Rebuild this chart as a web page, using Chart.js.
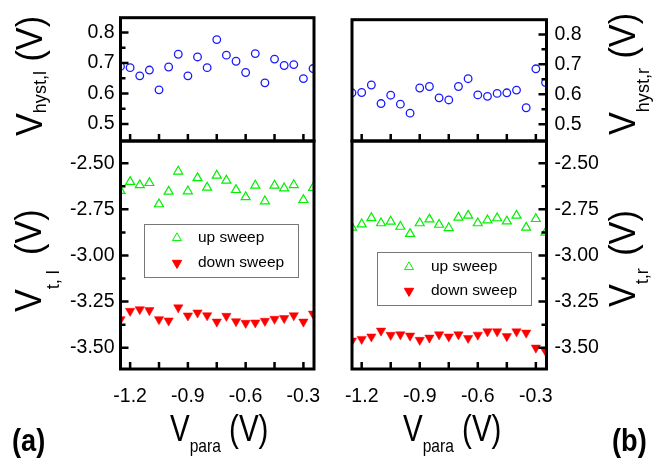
<!DOCTYPE html>
<html>
<head>
<meta charset="utf-8">
<script src="https://cdn.jsdelivr.net/npm/chart.js@4.4.1/dist/chart.umd.min.js"></script>
<style>
  body { margin: 0; background: #fff; }
  #wrap { position: relative; width: 655px; height: 465px; overflow: hidden; font-family: "Liberation Sans", Arial, sans-serif; }
  #wrap canvas { position: absolute; left: 0; top: 0; }
  .t { position: absolute; white-space: nowrap; font-size: 36px; line-height: 36px; color: #000; transform-origin: 0 0; }
  .t .s { font-size: 19px; position: relative; }
  .lbl { position: absolute; font-size: 32px; line-height: 32px; font-weight: bold; transform-origin: 0 0; transform: scaleX(0.85); }
</style>
</head>
<body>
<div id="wrap">
  <canvas id="cTL" width="655" height="465"></canvas>
  <canvas id="cBL" width="655" height="465"></canvas>
  <canvas id="cTR" width="655" height="465"></canvas>
  <canvas id="cBR" width="655" height="465"></canvas>

  <div class="t" style="left:12px;top:136px;transform:rotate(-90deg) scaleX(0.95)">V<span class="s" style="top:4px">hyst,l</span> (V)</div>
  <div class="t" style="left:11px;top:312px;transform:rotate(-90deg) scaleX(0.95)">V<span class="s" style="top:18px;margin-right:6px">t, l</span> (V)</div>
  <div class="t" style="left:605px;top:135px;transform:rotate(-90deg) scaleX(0.95)">V<span class="s" style="top:14px">hyst,r</span> (V)</div>
  <div class="t" style="left:605px;top:307px;transform:rotate(-90deg) scaleX(0.95)">V<span class="s" style="top:13px;margin-right:3px">t,r</span> (V)</div>

  <div class="t" style="left:170px;top:411px;transform:scaleX(0.82)">V<span class="s" style="top:11px">para</span> (V)</div>
  <div class="t" style="left:403px;top:411px;transform:scaleX(0.82)">V<span class="s" style="top:11px">para</span> (V)</div>

  <div class="lbl" style="left:12px;top:424px">(a)</div>
  <div class="lbl" style="left:612px;top:424px">(b)</div>
</div>
<script>
// x positions of the measurements (V_para, volts)
const vPara = [-1.25, -1.2, -1.15, -1.1, -1.05, -1.0, -0.95, -0.9, -0.85, -0.8, -0.75,
               -0.7, -0.65, -0.6, -0.55, -0.5, -0.45, -0.4, -0.35, -0.3, -0.25];

// (a) left side
const hystLeft = [0.689, 0.685, 0.658, 0.677, 0.612, 0.687, 0.729, 0.658, 0.720, 0.685, 0.777,
                  0.726, 0.706, 0.669, 0.731, 0.635, 0.713, 0.692, 0.695, 0.649, 0.682];
const upLeft = [-2.650, -2.601, -2.619, -2.607, -2.722, -2.654, -2.545, -2.652, -2.581, -2.632, -2.567,
                -2.594, -2.645, -2.684, -2.621, -2.706, -2.621, -2.636, -2.618, -2.699, -2.634];
const downLeft = [-3.346, -3.301, -3.292, -3.297, -3.346, -3.353, -3.282, -3.326, -3.310, -3.325, -3.359,
                  -3.328, -3.357, -3.366, -3.364, -3.355, -3.344, -3.340, -3.325, -3.359, -3.316];

// (b) right side
const hystRight = [0.605, 0.606, 0.631, 0.569, 0.597, 0.567, 0.537, 0.621, 0.626, 0.588, 0.581,
                   0.626, 0.652, 0.598, 0.593, 0.603, 0.605, 0.614, 0.555, 0.685, 0.639];
const upRight = [-2.849, -2.831, -2.797, -2.825, -2.816, -2.844, -2.883, -2.825, -2.804, -2.833, -2.851,
                 -2.795, -2.784, -2.825, -2.809, -2.798, -2.815, -2.784, -2.849, -2.802, -2.876];
const downRight = [-3.462, -3.453, -3.440, -3.408, -3.431, -3.428, -3.435, -3.458, -3.446, -3.428, -3.440,
                   -3.428, -3.448, -3.430, -3.412, -3.412, -3.438, -3.412, -3.419, -3.500, -3.518];

// ticks
const xTicks = [-1.2, -0.9, -0.6, -0.3];
const xMinorTicks = [-1.05, -0.75, -0.45];
const hystTicks = [0.5, 0.6, 0.7, 0.8];
const hystMinorTicks = [0.55, 0.65, 0.75];
const vtTicks = [-3.5, -3.25, -3.0, -2.75, -2.5];
const vtMinorTicks = [-3.375, -3.125, -2.875, -2.625];

const legendLabels = ["up sweep", "down sweep"];

const FONT = '"Liberation Sans", Arial, sans-serif';
const toPts = ys => ys.map((y, i) => ({ x: vPara[i], y }));

const circleStyle = { pointStyle: 'circle', pointRadius: 3.8, pointBorderWidth: 1.3,
  pointBorderColor: '#1a1aff', pointBackgroundColor: 'rgba(0,0,0,0)' };
const upStyle = { pointStyle: 'triangle', pointRadius: 5.2, pointBorderWidth: 1.2,
  pointBorderColor: '#00f000', pointBackgroundColor: 'rgba(0,0,0,0)' };
const downStyle = { pointStyle: 'triangle', pointRotation: 180, pointRadius: 5.4, pointBorderWidth: 0.5,
  pointBorderColor: '#ff0000', pointBackgroundColor: '#ff0000' };

// frame, inward ticks and the little legend box
const framePlugin = {
  id: 'frame',
  afterDatasetsDraw(chart, args, opts) {
    const ctx = chart.ctx;
    const a = chart.chartArea;
    const xs = chart.scales.x, ys = chart.scales.y;
    ctx.save();
    ctx.strokeStyle = '#000';
    ctx.lineWidth = 2.5;
    ctx.beginPath();
    xTicks.concat(xMinorTicks).forEach(v => {
      const px = xs.getPixelForValue(v);
      ctx.moveTo(px, a.bottom);
      ctx.lineTo(px, a.bottom - 7);
    });
    const side = opts.side === 'right' ? a.right : a.left;
    const dir = opts.side === 'right' ? -1 : 1;
    opts.major.forEach(v => {
      const py = ys.getPixelForValue(v);
      ctx.moveTo(side, py);
      ctx.lineTo(side + dir * 8, py);
    });
    opts.minor.forEach(v => {
      const py = ys.getPixelForValue(v);
      ctx.moveTo(side, py);
      ctx.lineTo(side + dir * 5, py);
    });
    ctx.stroke();
    ctx.lineWidth = 3;
    ctx.strokeRect(a.left, a.top, a.right - a.left, a.bottom - a.top);

    if (opts.legend) {
      const L = opts.legend;
      ctx.lineWidth = 1;
      ctx.strokeStyle = '#777';
      ctx.strokeRect(L.x + 0.5, L.y + 0.5, L.w, L.h);
      ctx.font = '15.5px ' + FONT;
      ctx.fillStyle = '#000';
      ctx.textBaseline = 'middle';
      chart.data.datasets.forEach((ds, i) => {
        const my = L.y + L.rows[i];
        ctx.save();
        ctx.strokeStyle = ds.pointBorderColor;
        ctx.fillStyle = ds.pointBackgroundColor;
        Chart.helpers.drawPoint(ctx, {
          pointStyle: ds.pointStyle, rotation: ds.pointRotation || 0,
          radius: ds.pointRadius, borderWidth: ds.pointBorderWidth
        }, L.x + L.mx, my);
        ctx.restore();
        ctx.fillText(legendLabels[i], L.x + L.tx, my);
      });
    }
    ctx.restore();
  }
};

function makePanel(id, cfg) {
  const tickFont = { family: FONT, size: 19.5 };
  new Chart(document.getElementById(id), {
    type: 'scatter',
    data: { datasets: cfg.datasets },
    options: {
      responsive: false,
      animation: false,
      devicePixelRatio: 1,
      layout: { padding: cfg.padding },
      plugins: {
        legend: { display: false },
        tooltip: { enabled: false },
        frame: { side: cfg.side, major: cfg.yTicks, minor: cfg.yMinor, legend: cfg.legend }
      },
      scales: {
        x: {
          type: 'linear', min: -1.25, max: -0.245, display: cfg.showX,
          grid: { display: false, drawTicks: false }, border: { display: false },
          afterBuildTicks: s => { s.ticks = xTicks.map(v => ({ value: v })); },
          afterFit: s => { s.height = cfg.showX ? 40 : 0; },
          ticks: { padding: 16, color: '#000', font: tickFont, maxRotation: 0,
                   callback: v => v.toFixed(1) }
        },
        y: {
          type: 'linear', position: cfg.side, min: cfg.yMin, max: cfg.yMax,
          grid: { display: false, drawTicks: false }, border: { display: false },
          afterBuildTicks: s => { s.ticks = cfg.yTicks.map(v => ({ value: v })); },
          afterFit: s => { s.width = cfg.yWidth; },
          ticks: { padding: cfg.side === 'right' ? 8 : 6, color: '#000', font: tickFont,
                   callback: v => v.toFixed(cfg.dec) }
        }
      }
    },
    plugins: [framePlugin]
  });
}

makePanel('cTL', {
  side: 'left', yWidth: 120, padding: { left: 0.5, top: 9, right: 341, bottom: 324 },
  showX: false, yMin: 0.444, yMax: 0.849, yTicks: hystTicks, yMinor: hystMinorTicks, dec: 1,
  datasets: [Object.assign({ data: toPts(hystLeft) }, circleStyle)]
});
makePanel('cBL', {
  side: 'left', yWidth: 120, padding: { left: 0.5, top: 141, right: 341, bottom: 56 },
  showX: true, yMin: -3.615, yMax: -2.38, yTicks: vtTicks, yMinor: vtMinorTicks, dec: 2,
  legend: { x: 144, y: 224, w: 154, h: 53, mx: 33, tx: 54, rows: [14, 39] },
  datasets: [
    Object.assign({ label: 'up sweep', data: toPts(upLeft) }, upStyle),
    Object.assign({ label: 'down sweep', data: toPts(downLeft) }, downStyle)
  ]
});
makePanel('cTR', {
  side: 'right', yWidth: 108.5, padding: { left: 352, top: 9, right: 0, bottom: 324 },
  showX: false, yMin: 0.444, yMax: 0.849, yTicks: hystTicks, yMinor: hystMinorTicks, dec: 1,
  datasets: [Object.assign({ data: toPts(hystRight) }, circleStyle)]
});
makePanel('cBR', {
  side: 'right', yWidth: 108.5, padding: { left: 352, top: 141, right: 0, bottom: 56 },
  showX: true, yMin: -3.615, yMax: -2.38, yTicks: vtTicks, yMinor: vtMinorTicks, dec: 2,
  legend: { x: 377, y: 252, w: 154, h: 53, mx: 32, tx: 54, rows: [15, 39] },
  datasets: [
    Object.assign({ label: 'up sweep', data: toPts(upRight) }, upStyle),
    Object.assign({ label: 'down sweep', data: toPts(downRight) }, downStyle)
  ]
});
</script>
</body>
</html>
